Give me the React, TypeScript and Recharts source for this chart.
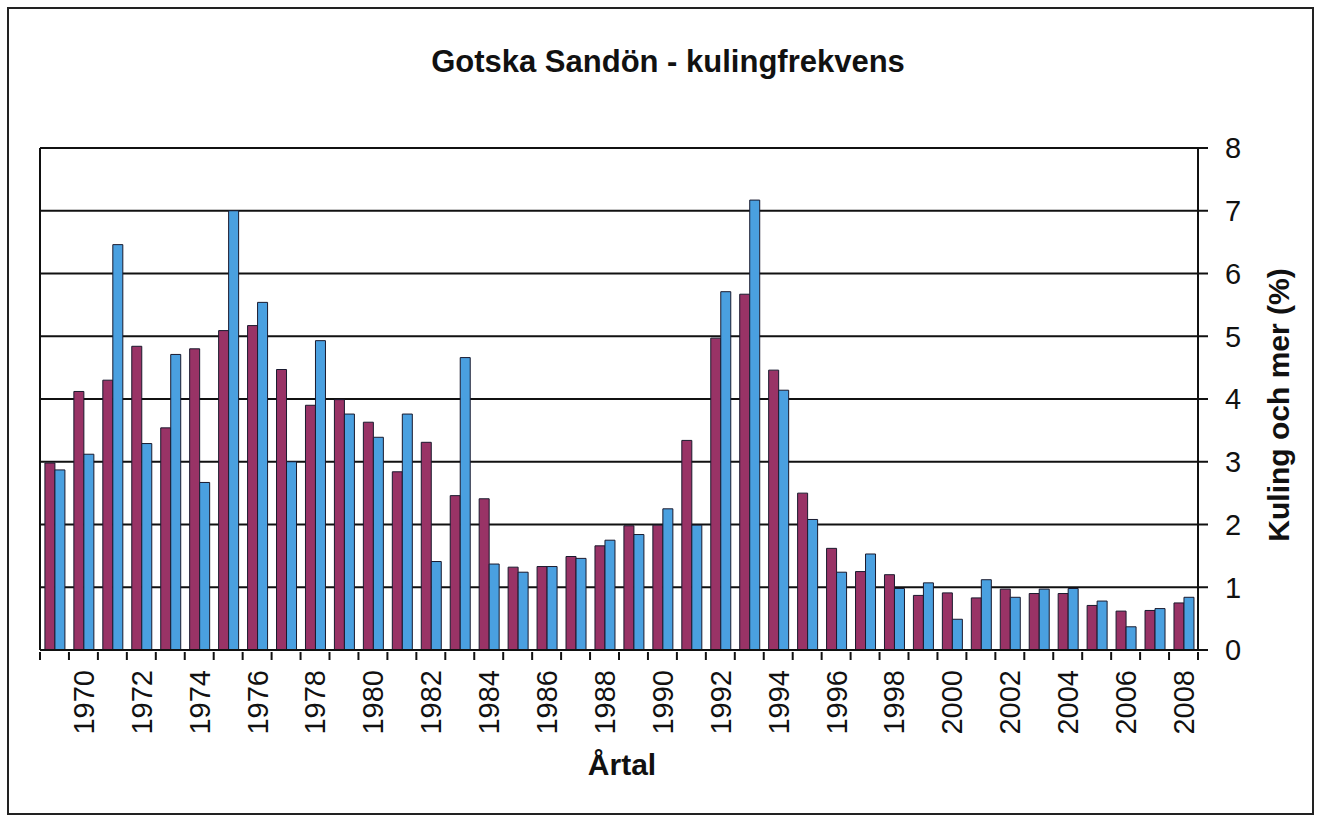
import React from 'react';
import { BarChart, Bar, XAxis, YAxis, CartesianGrid, Customized, ReferenceLine } from 'recharts';

const FONT = "'Liberation Sans', Arial, Helvetica, sans-serif";
const INK = '#111';

const years = [
  1969, 1970, 1971, 1972, 1973, 1974, 1975, 1976, 1977, 1978,
  1979, 1980, 1981, 1982, 1983, 1984, 1985, 1986, 1987, 1988,
  1989, 1990, 1991, 1992, 1993, 1994, 1995, 1996, 1997, 1998,
  1999, 2000, 2001, 2002, 2003, 2004, 2005, 2006, 2007, 2008,
];

// Kuling och mer (%), purple series
const kulingSerie1 = [
  2.98, 4.12, 4.3, 4.84, 3.54, 4.8, 5.09, 5.17, 4.47, 3.9,
  3.99, 3.63, 2.84, 3.31, 2.46, 2.41, 1.32, 1.33, 1.49, 1.66,
  1.98, 1.99, 3.34, 4.97, 5.67, 4.46, 2.5, 1.62, 1.25, 1.2,
  0.87, 0.91, 0.83, 0.97, 0.9, 0.9, 0.71, 0.62, 0.63, 0.75,
];

// Kuling och mer (%), blue series
const kulingSerie2 = [
  2.87, 3.12, 6.46, 3.29, 4.71, 2.67, 7.0, 5.54, 3.0, 4.93,
  3.76, 3.39, 3.76, 1.41, 4.66, 1.37, 1.24, 1.33, 1.46, 1.75,
  1.84, 2.25, 1.99, 5.71, 7.17, 4.14, 2.08, 1.24, 1.53, 0.98,
  1.07, 0.49, 1.12, 0.84, 0.97, 0.98, 0.78, 0.37, 0.66, 0.84,
];

const yTicks = [0, 1, 2, 3, 4, 5, 6, 7, 8];
const labelYears = [
  1970, 1972, 1974, 1976, 1978, 1980, 1982, 1984, 1986, 1988,
  1990, 1992, 1994, 1996, 1998, 2000, 2002, 2004, 2006, 2008,
];

const data = years.map((year, i) => ({
  year,
  pos: i + 0.5,
  serie1: kulingSerie1[i],
  serie2: kulingSerie2[i],
}));

// Positions on the helper numeric axis: category boundaries get tick marks,
// category centres of the labelled years get the rotated year text.
const boundaryTicks = [...years.map((_, i) => i), years.length];
const labelTicks = labelYears.map((y) => years.indexOf(y) + 0.5);

const YearTick = (props: any) => {
  const { x, y, payload } = props;
  const v = payload.value as number;
  if (Number.isInteger(v)) {
    return <line x1={x} y1={y} x2={x} y2={y + 8} stroke={INK} strokeWidth={2} />;
  }
  const ty = y + 18;
  return (
    <text
      x={x}
      y={ty}
      transform={`rotate(-90, ${x}, ${ty})`}
      textAnchor="end"
      dy="0.36em"
      fontSize={29}
      fontFamily={FONT}
      fill={INK}
    >
      {years[Math.floor(v)]}
    </text>
  );
};

const Decorations = () => (
  <g>
    <rect x={8} y={8} width={1305} height={806} fill="none" stroke="#222" strokeWidth={2} />
    <text x={668} y={72} textAnchor="middle" fontSize={31} fontWeight="bold" fontFamily={FONT} fill={INK}>
      Gotska Sandön - kulingfrekvens
    </text>
    <text x={622} y={775} textAnchor="middle" fontSize={30} fontWeight="bold" fontFamily={FONT} fill={INK}>
      Årtal
    </text>
    <text
      x={1278}
      y={405}
      transform="rotate(-90, 1278, 405)"
      textAnchor="middle"
      dy="0.36em"
      fontSize={30}
      fontWeight="bold"
      fontFamily={FONT}
      fill={INK}
    >
      Kuling och mer (%)
    </text>
  </g>
);

export default function App() {
  return (
    <>
      <style>{'body{margin:0;background:#fff}'}</style>
      <BarChart
        width={1322}
        height={817}
        data={data}
        margin={{ top: 148, left: 40, right: 24, bottom: 67 }}
        barCategoryGap="17%"
        barGap={0}
      >
        <CartesianGrid
          xAxisId="num"
          yAxisId="right"
          vertical={false}
          stroke={INK}
          strokeWidth={2}
        />
        <XAxis xAxisId="cat" dataKey="year" hide height={0} />
        <XAxis
          xAxisId="num"
          dataKey="pos"
          type="number"
          domain={[0, 40]}
          allowDataOverflow
          ticks={[...boundaryTicks, ...labelTicks]}
          interval={0}
          allowDecimals
          tickSize={0}
          tickLine={false}
          tick={<YearTick />}
          axisLine={{ stroke: INK, strokeWidth: 2 }}
          height={100}
        />
        <YAxis
          yAxisId="right"
          orientation="right"
          domain={[0, 8]}
          ticks={yTicks}
          interval={0}
          width={100}
          tickSize={10}
          tickMargin={17}
          axisLine={{ stroke: INK, strokeWidth: 2 }}
          tickLine={{ stroke: INK, strokeWidth: 2 }}
          tick={{ fontSize: 29, fill: INK, fontFamily: FONT }}
        />
        {/* left edge of the plot area */}
        <ReferenceLine xAxisId="num" yAxisId="right" x={0} stroke={INK} strokeWidth={2} />
        <Bar
          xAxisId="cat"
          yAxisId="right"
          dataKey="serie1"
          fill="#993366"
          stroke="#1a1a2e"
          strokeWidth={1}
          isAnimationActive={false}
        />
        <Bar
          xAxisId="cat"
          yAxisId="right"
          dataKey="serie2"
          fill="#4aa0e0"
          stroke="#1a1a2e"
          strokeWidth={1}
          isAnimationActive={false}
        />
        <Customized component={Decorations} />
      </BarChart>
    </>
  );
}
